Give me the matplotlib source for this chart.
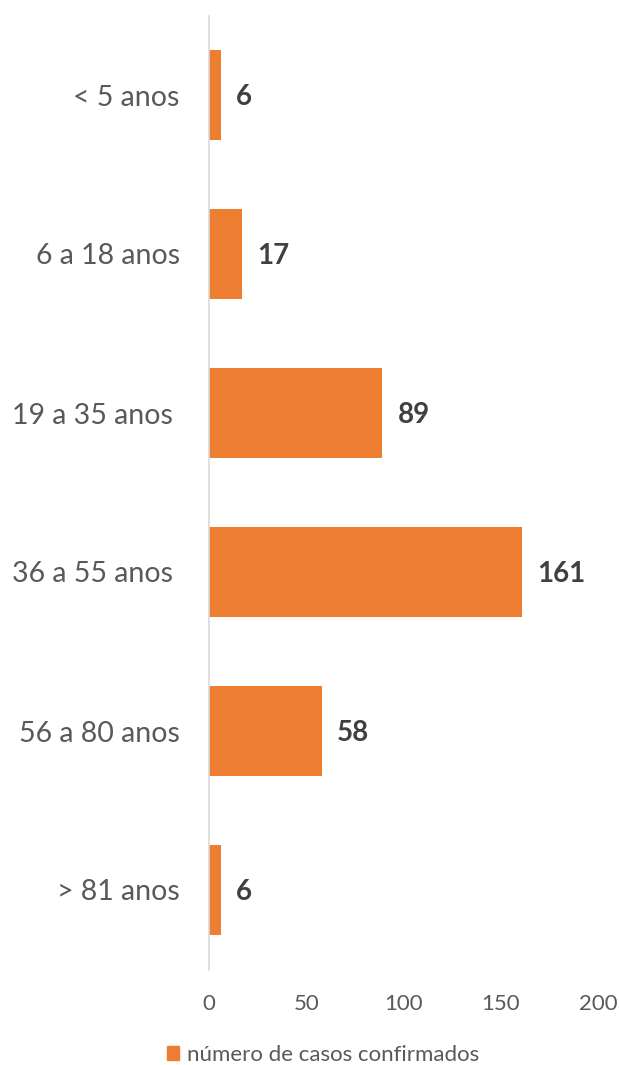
import matplotlib
matplotlib.use('Agg')
import matplotlib.pyplot as plt
from matplotlib.patches import Patch

plt.rcParams['font.family'] = ['Lato', 'DejaVu Sans']

# dados
faixas = ['< 5 anos', '6 a 18 anos', '19 a 35 anos ', '36 a 55 anos ', '56 a 80 anos', '> 81 anos']
casos = [6, 17, 89, 161, 58, 6]
xticks = [0, 50, 100, 150, 200]
serie = 'número de casos confirmados'

cor = '#ED7D31'
cinza = '#595959'

fig = plt.figure(figsize=(6.19, 10.65), dpi=100)
ax = fig.add_axes([209 / 619, 1 - 969.5 / 1065, (598 - 209) / 619, 954 / 1065])

pos = list(range(len(faixas)))
ax.barh(pos, casos, height=0.566, color=cor)

for p, v in zip(pos, casos):
    ax.annotate(str(v), (v, p), xytext=(11, -1.5), textcoords='offset points',
                ha='left', va='center', fontsize=20, fontweight='bold', color='#404040')

ax.set_ylim(len(faixas) - 0.5, -0.5)
ax.set_xlim(0, 200)
ax.set_yticks(pos)
ax.set_yticklabels(faixas, fontsize=20.5, color=cinza)
ax.set_xticks(xticks)
ax.set_xticklabels([str(t) for t in xticks], fontsize=16, color=cinza)
ax.tick_params(axis='y', length=0, pad=21)
ax.tick_params(axis='x', length=0, pad=18)

for s in ['top', 'right', 'bottom']:
    ax.spines[s].set_visible(False)
ax.spines['left'].set_color('#D9D9D9')
ax.spines['left'].set_linewidth(1.2)

fig.legend(handles=[Patch(color=cor, label=serie)], loc='center',
           bbox_to_anchor=(0.522, 1 - 1055 / 1065), frameon=False,
           fontsize=16, labelcolor=cinza, handlelength=0.55, handleheight=0.55,
           handletextpad=0.35)

fig.savefig('out.png', dpi=100)
